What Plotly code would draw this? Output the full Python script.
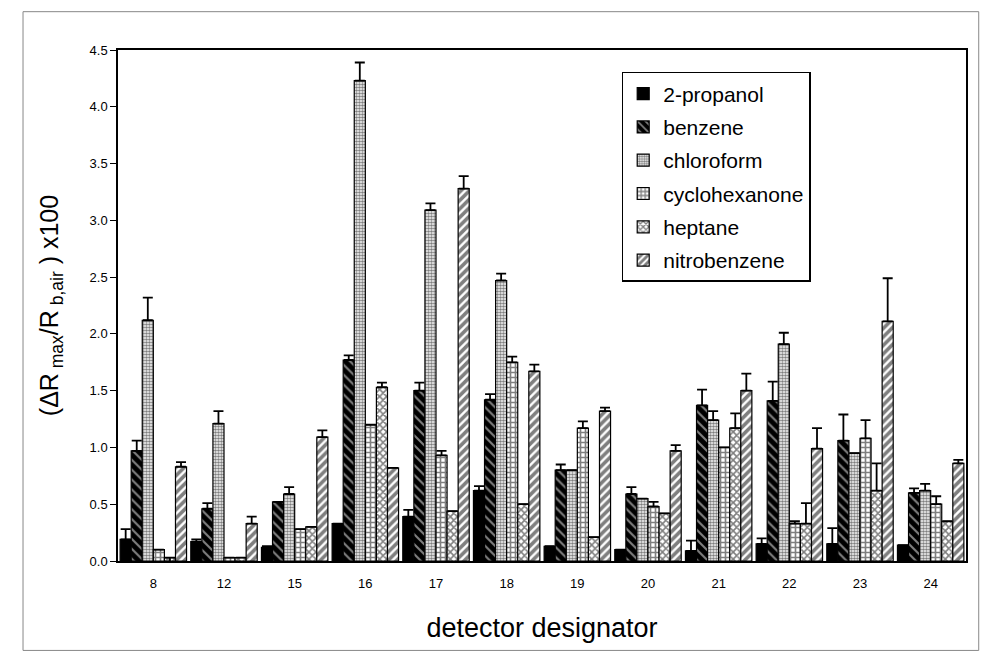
import plotly.graph_objects as go

detectors = ["8", "12", "15", "16", "17", "18", "19", "20", "21", "22", "23", "24"]

propanol      = [0.19, 0.17, 0.12, 0.33, 0.39, 0.62, 0.13, 0.10, 0.09, 0.15, 0.15, 0.14]
propanol_err  = [0.09, 0.02, 0.01, 0.00, 0.06, 0.04, 0.00, 0.00, 0.09, 0.05, 0.14, 0.00]
benzene       = [0.97, 0.46, 0.52, 1.77, 1.50, 1.42, 0.80, 0.59, 1.37, 1.41, 1.06, 0.60]
benzene_err   = [0.09, 0.05, 0.00, 0.04, 0.07, 0.05, 0.05, 0.06, 0.14, 0.17, 0.23, 0.04]
chloroform    = [2.12, 1.21, 0.59, 4.23, 3.09, 2.47, 0.80, 0.55, 1.24, 1.91, 0.95, 0.62]
chloroform_err= [0.20, 0.11, 0.06, 0.16, 0.06, 0.06, 0.00, 0.00, 0.08, 0.10, 0.00, 0.06]
cyclohex      = [0.10, 0.03, 0.28, 1.20, 0.93, 1.75, 1.17, 0.48, 1.00, 0.33, 1.08, 0.50]
cyclohex_err  = [0.00, 0.00, 0.00, 0.00, 0.04, 0.05, 0.06, 0.04, 0.00, 0.02, 0.16, 0.07]
heptane       = [0.03, 0.03, 0.30, 1.53, 0.44, 0.50, 0.21, 0.42, 1.17, 0.33, 0.62, 0.35]
heptane_err   = [0.00, 0.00, 0.00, 0.04, 0.00, 0.00, 0.00, 0.00, 0.13, 0.18, 0.24, 0.00]
heptane_errm  = [0.15, 0.00, 0.00, 0.00, 0.00, 0.00, 0.00, 0.00, 0.00, 0.00, 0.00, 0.00]
nitrobenz     = [0.83, 0.33, 1.09, 0.82, 3.28, 1.67, 1.32, 0.97, 1.50, 0.99, 2.11, 0.86]
nitrobenz_err = [0.04, 0.06, 0.06, 0.00, 0.11, 0.06, 0.03, 0.05, 0.15, 0.18, 0.38, 0.03]

zeros = [0] * len(detectors)

series = [
    ("2-propanol", propanol, propanol_err, zeros, dict(color="black")),
    ("benzene", benzene, benzene_err, zeros,
     dict(color="black", pattern=dict(shape="\\", fgcolor="white", bgcolor="black", size=7, solidity=0.3))),
    ("chloroform", chloroform, chloroform_err, zeros,
     dict(color="white", pattern=dict(shape=".", fgcolor="black", bgcolor="white", size=3, solidity=0.6))),
    ("cyclohexanone", cyclohex, cyclohex_err, zeros,
     dict(color="white", pattern=dict(shape="+", fgcolor="black", bgcolor="white", size=5, solidity=0.55))),
    ("heptane", heptane, heptane_err, heptane_errm,
     dict(color="white", pattern=dict(shape="x", fgcolor="black", bgcolor="white", size=5, solidity=0.55))),
    ("nitrobenzene", nitrobenz, nitrobenz_err, zeros,
     dict(color="white", pattern=dict(shape="/", fgcolor="black", bgcolor="white", size=6, solidity=0.6))),
]

fig = go.Figure()
for name, vals, plus, minus, marker in series:
    marker = dict(marker)
    marker["line"] = dict(color="black", width=1.2)
    fig.add_trace(go.Bar(
        name=name, x=detectors, y=vals, marker=marker, legendgroup=name,
        error_y=dict(type="data", symmetric=False, array=plus, arrayminus=minus,
                     color="black", thickness=1.8, width=5),
    ))

fig.update_layout(
    width=987, height=659,
    margin=dict(l=118, r=21, t=50, b=98),
    paper_bgcolor="white", plot_bgcolor="white",
    font=dict(family="Liberation Sans, Arial, sans-serif", color="black"),
    barmode="group", bargap=0.06, bargroupgap=0.0,
    showlegend=True,
    legend=dict(x=0.594, y=0.957, xanchor="left", yanchor="top",
                bordercolor="black", borderwidth=1.5, bgcolor="white",
                font=dict(size=21), tracegroupgap=3, itemwidth=30),
    xaxis=dict(
        type="category", showline=True, linecolor="black", linewidth=1.5,
        mirror=True, ticks="", tickfont=dict(size=13), ticklabelstandoff=10,
        title=dict(text="detector designator", font=dict(size=27), standoff=28),
    ),
    yaxis=dict(
        range=[0, 4.5], dtick=0.5, tickformat=".1f",
        showline=True, linecolor="black", linewidth=1.5, mirror=True,
        ticks="outside", ticklen=6, tickcolor="black", showgrid=False, zeroline=False,
        tickfont=dict(size=13),
        title=dict(text="(ΔR<sub> max</sub>/R<sub> b,air</sub> ) x100", font=dict(size=25), standoff=24),
    ),
    shapes=[dict(type="rect", xref="paper", yref="paper", x0=-0.112, x1=1.015, y0=-0.175, y1=1.075,
                 line=dict(color="#888888", width=1))],
)

fig.write_html("out.html")
